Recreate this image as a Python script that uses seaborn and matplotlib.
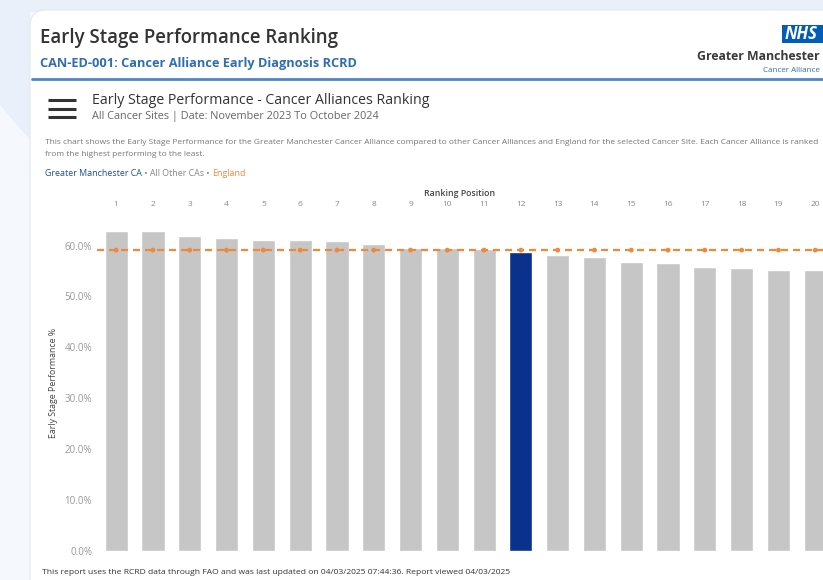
import matplotlib
matplotlib.use("Agg")
import matplotlib.pyplot as plt
from matplotlib.patches import FancyBboxPatch, Polygon, Rectangle
import seaborn as sns
import pandas as pd

# ---- data ----
ranks = list(range(1, 21))
values = [62.9, 62.9, 61.8, 61.5, 61.1, 61.0, 60.8, 60.4, 59.6, 59.6,
          59.4, 58.8, 58.2, 57.7, 56.7, 56.6, 55.8, 55.6, 55.2, 55.1]
groups = ["All Other CAs"] * 11 + ["Greater Manchester CA"] + ["All Other CAs"] * 8
england_value = 59.1
y_ticks = [0, 10, 20, 30, 40, 50, 60]
y_tick_labels = ["0.0%", "10.0%", "20.0%", "30.0%", "40.0%", "50.0%", "60.0%"]

df = pd.DataFrame({"rank": ranks, "value": values, "group": groups})

sns.set_theme(style="white")
plt.rcParams["font.family"] = ["Open Sans", "DejaVu Sans"]

W, H = 823, 580
fig = plt.figure(figsize=(W / 100, H / 100), dpi=100)
fig.patch.set_facecolor("#f5f8fc")

def fx(x):
    return x / W

def fy(y):
    return 1 - y / H

# background decoration
bg = fig.add_axes([0, 0, 1, 1], zorder=-10)
bg.set_xlim(0, W)
bg.set_ylim(H, 0)
bg.axis("off")
bg.add_patch(Polygon([(0, 0), (W, 0), (W, 12), (30, 12), (30, 140), (0, 105)],
                     closed=True, facecolor="#e9f0fa", edgecolor="none"))
bg.add_patch(FancyBboxPatch((30, 10), 900, 700, boxstyle="round,pad=0,rounding_size=16",
                            facecolor="white", edgecolor="#e3e8ef", linewidth=0.8))

# header texts
fig.text(fx(40), fy(38), "Early Stage Performance Ranking", fontsize=13.4,
         fontweight="semibold", color="#333333", va="center", ha="left")
fig.text(fx(40), fy(64), "CAN-ED-001: Cancer Alliance Early Diagnosis RCRD", fontsize=9.2,
         fontweight="bold", color="#2f6db5", va="center", ha="left")
bg.plot([32, W], [79, 79], color="#4f86c6", linewidth=2.0)

# NHS logo
bg.add_patch(Rectangle((782, 25), 50, 18, facecolor="#005eb8", edgecolor="none"))
fig.text(fx(785), fy(34), "NHS", fontsize=12, fontweight="bold", fontstyle="italic",
         color="white", va="center", ha="left")
fig.text(fx(820), fy(56), "Greater Manchester", fontsize=8.8, fontweight="bold",
         color="#3a3a3a", va="center", ha="right")
fig.text(fx(820), fy(70), "Cancer Alliance", fontsize=5.8, color="#2f6db5",
         va="center", ha="right")

# hamburger icon
for yy in (100, 109, 117):
    bg.plot([48, 76], [yy, yy], color="#333333", linewidth=2.2, solid_capstyle="butt")

fig.text(fx(92), fy(100), "Early Stage Performance - Cancer Alliances Ranking", fontsize=10.2,
         color="#333333", va="center", ha="left")
fig.text(fx(92), fy(117), "All Cancer Sites | Date: November 2023 To October 2024", fontsize=7.8,
         color="#666666", va="center", ha="left")

fig.text(fx(45), fy(143),
         "This chart shows the Early Stage Performance for the Greater Manchester Cancer Alliance "
         "compared to other Cancer Alliances and England for the selected Cancer Site. Each Cancer Alliance is ranked",
         fontsize=6.0, color="#777777", va="center", ha="left")
fig.text(fx(45), fy(155), "from the highest performing to the least.", fontsize=6.0,
         color="#777777", va="center", ha="left")

t1 = fig.text(fx(45), fy(173), "Greater Manchester CA", fontsize=6.4, color="#1f4f9a",
              va="center", ha="left")
fig.canvas.draw()
r = fig.canvas.get_renderer()
bb = t1.get_window_extent(renderer=r)
t2 = fig.text(bb.x1 / fig.bbox.width, fy(173), " \u2022 All Other CAs \u2022 ", fontsize=6.4,
              color="#888888", va="center", ha="left")
bb2 = t2.get_window_extent(renderer=r)
fig.text(bb2.x1 / fig.bbox.width, fy(173), "England", fontsize=6.4, color="#f0883a",
         va="center", ha="left")

# footer
fig.text(fx(42), fy(573),
         "This report uses the RCRD data through FAO and was last updated on 04/03/2025 07:44:36. "
         "Report viewed 04/03/2025",
         fontsize=6.1, color="#333333", va="center", ha="left")

# ---- chart ----
ax_left, ax_right = 97, W
ax_top, ax_bottom = 215, 551
ax = fig.add_axes([fx(ax_left), fy(ax_bottom), fx(ax_right - ax_left), (ax_bottom - ax_top) / H])
ax.set_facecolor("none")

palette = {"All Other CAs": "#c6c6c6", "Greater Manchester CA": "#0a318c"}
sns.barplot(data=df, x="rank", y="value", hue="group", palette=palette, dodge=False,
            width=0.63, ax=ax, legend=False, saturation=1)

ax.axhline(england_value, color="#f0883a", linestyle=(0, (3.2, 2.2)), linewidth=1.6, zorder=5)
sns.scatterplot(x=list(range(len(ranks))), y=[england_value] * len(ranks), ax=ax,
                color="#f0883a", s=12, edgecolor="none", zorder=6, legend=False)

ax.set_xlim(-0.52, 19.21)
ax.set_ylim(0, 66)
ax.set_yticks(y_ticks)
ax.set_yticklabels(y_tick_labels)
ax.xaxis.tick_top()
ax.xaxis.set_label_position("top")
ax.set_xticks(range(len(ranks)))
ax.set_xticklabels([str(r_) for r_ in ranks])
ax.tick_params(axis="x", length=0, pad=5.0, labelsize=6.0, labelcolor="#888888")
ax.tick_params(axis="y", length=0, pad=3.5, labelsize=7.0, labelcolor="#999999")
ax.set_xlabel("Ranking Position", fontsize=6.3, fontweight="semibold", color="#444444", labelpad=3.5)
ax.set_ylabel("Early Stage Performance %", fontsize=6.3, color="#444444", labelpad=5)
for s in ax.spines.values():
    s.set_visible(False)
ax.grid(False)

fig.savefig("out.png", dpi=100)
